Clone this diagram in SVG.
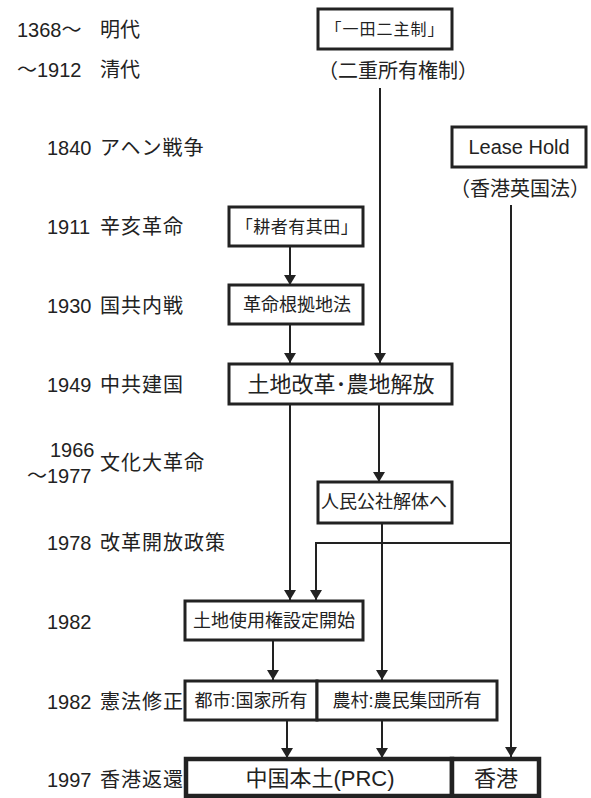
<svg xmlns="http://www.w3.org/2000/svg" width="591" height="798" viewBox="0 0 591 798">
<style>
text{font-family:"Liberation Sans","Noto Sans CJK JP",sans-serif;fill:#222;dominant-baseline:central}
.lbl{font-size:20px}
.bx{fill:#fff;stroke:#222;stroke-width:3}
.bx2{fill:#fff;stroke:#222;stroke-width:4.5}
.t16{font-size:16px;text-anchor:middle}
.t18{font-size:18px;text-anchor:middle}
.t19{font-size:19px;text-anchor:middle}
.t22{font-size:22px;text-anchor:middle}
.ln{fill:none;stroke:#222;stroke-width:2}
</style>
<defs>
<marker id="ah" viewBox="0 0 10 12" refX="10" refY="6" markerWidth="10" markerHeight="12" markerUnits="userSpaceOnUse" orient="auto">
<path d="M0,0 L10,6 L0,12 Z" fill="#222"/>
</marker>
</defs>
<g id="timeline">
<text class="lbl" x="17" y="30">1368～</text><text class="lbl" x="100" y="30">明代</text>
<text class="lbl" x="17" y="70">～1912</text><text class="lbl" x="100" y="70">清代</text>
<text class="lbl" x="47" y="148">1840</text><text class="lbl" x="100" y="148" letter-spacing="1">アヘン戦争</text>
<text class="lbl" x="47" y="227">1911</text><text class="lbl" x="100" y="227" letter-spacing="1">辛亥革命</text>
<text class="lbl" x="47" y="306">1930</text><text class="lbl" x="100" y="306" letter-spacing="1">国共内戦</text>
<text class="lbl" x="47" y="385">1949</text><text class="lbl" x="100" y="385" letter-spacing="1">中共建国</text>
<text class="lbl" x="50" y="450">1966</text><text class="lbl" x="27" y="476">～1977</text><text class="lbl" x="100" y="463" letter-spacing="1">文化大革命</text>
<text class="lbl" x="47" y="543">1978</text><text class="lbl" x="100" y="543" letter-spacing="1">改革開放政策</text>
<text class="lbl" x="47" y="622">1982</text>
<text class="lbl" x="47" y="702">1982</text><text class="lbl" x="100" y="702" letter-spacing="1">憲法修正</text>
<text class="lbl" x="47" y="780">1997</text><text class="lbl" x="100" y="780" letter-spacing="1">香港返還</text>
</g>
<g id="connectors">
<path class="ln" d="M380,88 V363" marker-end="url(#ah)"/>
<path class="ln" d="M290,246 V285" marker-end="url(#ah)"/>
<path class="ln" d="M290,324 V363" marker-end="url(#ah)"/>
<path class="ln" d="M290,404 V600" marker-end="url(#ah)"/>
<path class="ln" d="M379,404 V482" marker-end="url(#ah)"/>
<path class="ln" d="M382,523 V680" marker-end="url(#ah)"/>
<path class="ln" d="M511,205 V757" marker-end="url(#ah)"/>
<path class="ln" d="M511,543 H316 V600" marker-end="url(#ah)"/>
<path class="ln" d="M273,640 V680" marker-end="url(#ah)"/>
<path class="ln" d="M287,720 V758" marker-end="url(#ah)"/>
<path class="ln" d="M382,720 V758" marker-end="url(#ah)"/>
</g>
<g id="ichiden">
<rect class="bx" x="318" y="9" width="134" height="40"/>
<text class="t16" x="385" y="29" letter-spacing="1">「一田二主制」</text>
<text class="t19" x="398" y="71" style="font-size:20px">（二重所有権制）</text>
</g>
<g id="leasehold">
<rect class="bx" x="452" y="127" width="134" height="40"/>
<text class="t19" x="519" y="147" style="font-size:20px">Lease Hold</text>
<text class="t19" x="520" y="189" style="font-size:20px">（香港英国法）</text>
</g>
<g id="kousha">
<rect class="bx" x="229" y="207" width="134" height="39"/>
<text class="t18" x="297" y="227" style="font-size:17px" letter-spacing="0.5">「耕者有其田」</text>
</g>
<g id="kakumei">
<rect class="bx" x="229" y="285" width="134" height="39"/>
<text class="t18" x="297" y="305">革命根拠地法</text>
</g>
<g id="tochikaikaku">
<rect class="bx" x="229" y="364" width="223" height="40"/>
<text class="t22" x="341" y="384">土地改革･農地解放</text>
</g>
<g id="jinmin">
<rect class="bx" x="318" y="482" width="134" height="41"/>
<text class="t18" x="384" y="502">人民公社解体へ</text>
</g>
<g id="shiyouken">
<rect class="bx" x="185" y="601" width="178" height="39"/>
<text class="t18" x="274" y="621">土地使用権設定開始</text>
</g>
<g id="toshi">
<rect class="bx" x="185" y="681" width="132" height="39"/>
<text class="t18" x="251" y="701">都市:国家所有</text>
</g>
<g id="noson">
<rect class="bx" x="317" y="681" width="180" height="39"/>
<text class="t18" x="407" y="701">農村:農民集団所有</text>
</g>
<g id="prc">
<rect class="bx2" x="186" y="759" width="266" height="37"/>
<text class="t22" x="320" y="778">中国本土(PRC)</text>
</g>
<g id="hongkong">
<rect class="bx2" x="452" y="759" width="87" height="37"/>
<text class="t22" x="496" y="778">香港</text>
</g>
</svg>
